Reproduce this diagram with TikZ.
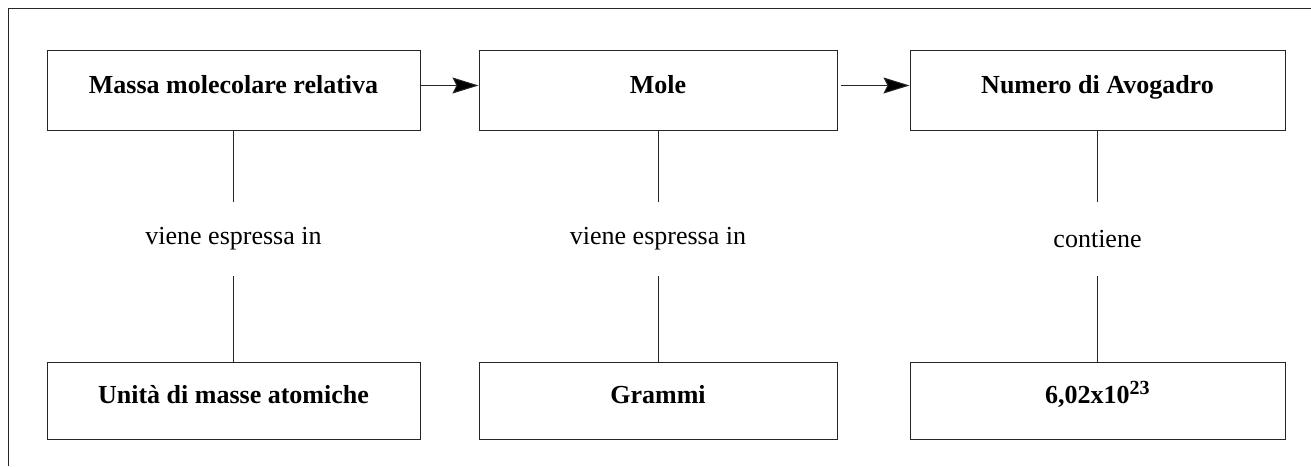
\documentclass[tikz,border=0pt]{standalone}
\usepackage{fontspec}
\setmainfont{Liberation Serif}
\usetikzlibrary{arrows.meta}
\begin{document}
\begin{tikzpicture}[x=1pt,y=1pt,
  every node/.style={font=\fontsize{26}{30}\selectfont},
  conceptbox/.style={draw=black!85, line width=1pt, rectangle, inner sep=0pt,
    minimum height=80pt, text height=18pt, text depth=12pt, font=\fontsize{26}{30}\selectfont\bfseries},
  linklabel/.style={inner sep=0pt, minimum height=74pt, minimum width=10pt},
  conn/.style={draw=black!85, line width=1pt},
  arr/.style={conn, -{Stealth[length=26pt,width=16pt,inset=4pt,fill=black]}}]
\useasboundingbox (0,0) rectangle (1311,466);
% frame (top and left)
\draw[draw=black!85, line width=1pt] (1311,457) -- (8,457) -- (8,0);
% top row
\node[conceptbox, minimum width=373pt] (b1) at (233.5,375) {Massa molecolare relativa};
\node[conceptbox, minimum width=358pt] (b2) at (658,375) {Mole};
\node[conceptbox, minimum width=375pt] (b3) at (1097.5,375) {Numero di Avogadro};
% bottom row
\node[conceptbox, minimum width=373pt, minimum height=77pt] (c1) at (233.5,65.5) {Unità di masse atomiche};
\node[conceptbox, minimum width=358pt, minimum height=77pt] (c2) at (658,65.5) {Grammi};
\node[conceptbox, minimum width=375pt, minimum height=77pt] (c3) at (1097.5,65.5) {6,02x10\textsuperscript{\fontsize{20}{24}\selectfont 23}};
% link labels
\node[linklabel] (l1) at (233.5,227) {viene espressa in};
\node[linklabel] (l2) at (658,227) {viene espressa in};
\node[linklabel] (l3) at (1097.5,227) {contiene};
% vertical connectors
\foreach \i in {1,2,3}{
  \draw[conn] (b\i.south) -- (l\i.north);
  \draw[conn] (l\i.south) -- (c\i.north);
}
% arrows
\coordinate (a2s) at ([xshift=3pt,yshift=5.5pt]b2.east);
\draw[arr] ([yshift=5.5pt]b1.east) -- ([yshift=5.5pt]b2.west);
\draw[arr] (a2s) -- ([yshift=5.5pt]b3.west);
\end{tikzpicture}
\end{document}
